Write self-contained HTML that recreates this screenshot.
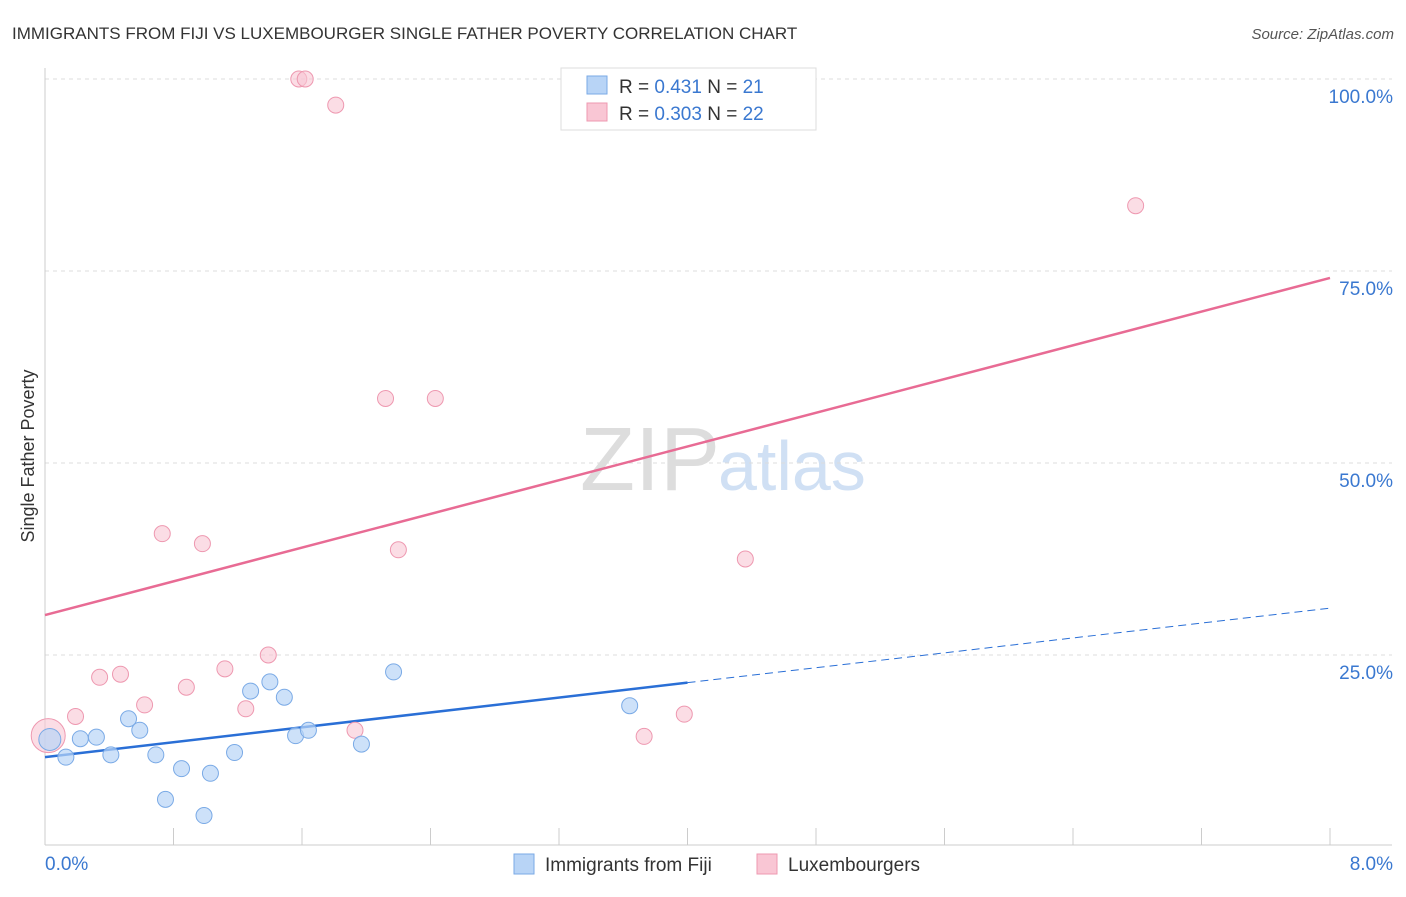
<!DOCTYPE html>
<html><head><meta charset="utf-8"><style>
body{margin:0;background:#fff;font-family:"Liberation Sans",sans-serif;}
svg text{font-family:"Liberation Sans",sans-serif;}
</style></head><body>
<svg id="c" width="1406" height="892">
<text x="12" y="39" font-size="17" fill="#333">IMMIGRANTS FROM FIJI VS LUXEMBOURGER SINGLE FATHER POVERTY CORRELATION CHART</text>
<text x="1394" y="39" font-size="15" fill="#555" text-anchor="end" font-style="italic">Source: ZipAtlas.com</text>
<text x="34" y="456" font-size="18" fill="#333" text-anchor="middle" transform="rotate(-90 34 456)">Single Father Poverty</text>
<text x="720" y="490" font-size="90" fill="#ddd" text-anchor="end" font-family="Liberation Serif">ZIP</text>
<text x="718" y="490" font-size="70" fill="#d0e0f4">atlas</text>
<g id="grid"></g><g id="axes"></g><g id="lines"></g><g id="pts"></g>
<g>
<rect x="561" y="68" width="255" height="62" fill="#fff" stroke="#ddd"/>
<rect x="587" y="76" width="20" height="18" fill="#b8d4f6" stroke="#7aaae6"/>
<text x="619" y="93" font-size="19" fill="#333">R = <tspan fill="#3a78d0">0.431</tspan>   N = <tspan fill="#3a78d0">21</tspan></text>
<rect x="587" y="103" width="20" height="18" fill="#f9c6d4" stroke="#ee98b0"/>
<text x="619" y="120" font-size="19" fill="#333">R = <tspan fill="#3a78d0">0.303</tspan>   N = <tspan fill="#3a78d0">22</tspan></text>
</g>
<g>
<rect x="514" y="854" width="20" height="20" fill="#b8d4f6" stroke="#7aaae6"/>
<text x="545" y="871" font-size="19" fill="#333">Immigrants from Fiji</text>
<rect x="757" y="854" width="20" height="20" fill="#f9c6d4" stroke="#ee98b0"/>
<text x="788" y="871" font-size="19" fill="#333">Luxembourgers</text>
</g>
</svg>
<script>
const fijiX=[0.03,0.13,0.22,0.32,0.41,0.52,0.59,0.69,0.75,0.85,0.99,1.03,1.18,1.28,1.40,1.49,1.56,1.64,1.97,2.17,3.64];
const fijiY=[14.0,11.7,14.1,14.3,12.0,16.7,15.2,12.0,6.2,10.2,4.1,9.6,12.3,20.3,21.5,19.5,14.5,15.2,13.4,22.8,18.4];
const luxX=[0.02,0.19,0.34,0.47,0.62,0.73,0.88,0.98,1.12,1.25,1.39,1.58,1.62,1.81,1.93,2.12,2.20,2.43,3.73,3.98,4.36,6.79];
const luxY=[14.5,17.0,22.1,22.5,18.5,40.8,20.8,39.5,23.2,18.0,25.0,100,100,96.6,15.2,58.4,38.7,58.4,14.4,17.3,37.5,83.5];
const yTicks=[25,50,75,100];
const fijiTrend=[11.7,31.1];const fijiSolidEnd=4.0;
const luxTrend=[30.2,74.1];
const X=v=>45+v/8*1285, Y=v=>847-v*7.68;
const NS="http://www.w3.org/2000/svg";
function mk(p,t,a){const e=document.createElementNS(NS,t);for(const k in a)e.setAttribute(k,a[k]);document.getElementById(p).appendChild(e);return e;}
yTicks.forEach(t=>{
 const g=mk('grid','line',{x1:45,x2:1392,y1:Y(t),y2:Y(t),stroke:'#ddd','stroke-dasharray':'4,4'});
 
 
 const l=mk('grid','text',{x:1393,y:Y(t)+24,'font-size':19,fill:'#3a78d0','text-anchor':'end'});l.textContent=t.toFixed(1)+'%';
 
 
});
const ax=mk('axes','line',{x1:45,x2:1392,y1:845,y2:845,stroke:'#ccc'});


const ay=mk('axes','line',{x1:45,x2:45,y1:68,y2:845,stroke:'#ccc'});


for(let i=1;i<=10;i++){const t=mk('axes','line',{x1:X(i*0.8),x2:X(i*0.8),y1:828,y2:845,stroke:'#ccc'});
 
 }
[[0,'0.0%','start',45],[8,'8.0%','end',1393]].forEach(([v,s,a,x])=>{const t=mk('axes','text',{x:x,y:870,'font-size':19,fill:'#3a78d0','text-anchor':a});t.textContent=s;
 
 });
const fy=x=>fijiTrend[0]+(fijiTrend[1]-fijiTrend[0])*x/8;
let l1=mk('lines','line',{x1:X(0),y1:Y(luxTrend[0]),x2:X(8),y2:Y(luxTrend[1]),stroke:'#e86b94','stroke-width':2.5});


let l2=mk('lines','line',{x1:X(0),y1:Y(fy(0)),x2:X(fijiSolidEnd),y2:Y(fy(fijiSolidEnd)),stroke:'#2a6fd6','stroke-width':2.5});


let l3=mk('lines','line',{x1:X(fijiSolidEnd),y1:Y(fy(fijiSolidEnd)),x2:X(8),y2:Y(fy(8)),stroke:'#2a6fd6','stroke-width':1,'stroke-dasharray':'8,5'});


luxX.forEach((x,i)=>{const c=mk('pts','circle',{cx:X(x),cy:Y(luxY[i]),r:i==0?17:8,fill:'#f9c6d4','fill-opacity':0.6,stroke:'#ee98b0'});
 
 });
fijiX.forEach((x,i)=>{const c=mk('pts','circle',{cx:X(x),cy:Y(fijiY[i]),r:i==0?11:8,fill:'#b8d4f6','fill-opacity':0.7,stroke:'#7aaae6'});
 
 });
</script>
</body></html>
